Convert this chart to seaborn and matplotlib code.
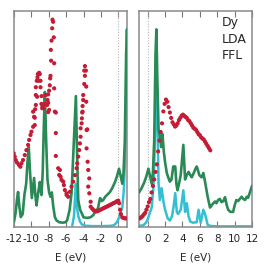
import matplotlib
matplotlib.use("Agg")
import matplotlib.pyplot as plt
import numpy as np
import pandas as pd
import seaborn as sns

# ---------------- data ----------------
green_E = [-12.0, -11.8, -11.65, -11.53, -11.4, -11.22, -11.0, -10.8, -10.6, -10.45, -10.3, -10.15,
           -9.95, -9.82, -9.69, -9.55, -9.41, -9.25, -9.03, -8.92, -8.84, -8.7, -8.58, -8.45, -8.3,
           -8.15, -7.96, -7.8, -7.65, -7.5, -7.3, -7.1, -6.8, -6.4, -6.1, -5.9, -5.77, -5.6, -5.38,
           -5.19, -5.05, -4.88, -4.75, -4.61, -4.4, -4.22, -4.0, -3.6, -3.2, -2.88, -2.6, -2.35,
           -2.1, -1.9, -1.73, -1.5, -1.25, -0.96, -0.7, -0.38, -0.15, 0.08, 0.25, 0.46, 0.6, 0.75,
           0.9, 1.0, 1.1, 1.25, 1.41, 1.55, 1.7, 1.85, 2.0, 2.2, 2.36, 2.55, 2.74, 2.94, 3.17, 3.3,
           3.43, 3.6, 3.8, 4.0, 4.1, 4.2, 4.3, 4.5, 4.7, 4.9, 5.07, 5.3, 5.5, 5.64, 5.8, 5.94, 6.2,
           6.4, 6.55, 6.7, 6.9, 7.17, 7.35, 7.55, 7.74, 7.9, 8.1, 8.3, 8.5, 8.7, 8.9, 9.1, 9.26,
           9.5, 9.83, 10.0, 10.2, 10.4, 10.6, 10.8, 11.0, 11.2, 11.4, 11.55, 11.75, 12.0]
green_v = [0.025, 0.07, 0.13, 0.162, 0.1, 0.046, 0.06, 0.15, 0.2, 0.3, 0.37, 0.25,
           0.134, 0.18, 0.227, 0.15, 0.1, 0.15, 0.208, 0.17, 0.148, 0.25, 0.45, 0.625, 0.4,
           0.22, 0.16, 0.14, 0.16, 0.1, 0.046, 0.03, 0.022, 0.02, 0.022, 0.03, 0.05, 0.08, 0.157,
           0.324, 0.45, 0.606, 0.35, 0.125, 0.08, 0.065, 0.045, 0.042, 0.045, 0.055, 0.075, 0.085,
           0.134, 0.12, 0.125, 0.14, 0.15, 0.162, 0.18, 0.208, 0.235, 0.27, 0.24, 0.2, 0.25, 0.4,
           0.8, 0.915, 0.7, 0.45, 0.42, 0.37, 0.43, 0.35, 0.3, 0.25, 0.23, 0.21, 0.22, 0.28, 0.28, 0.2,
           0.17, 0.2, 0.24, 0.33, 0.38, 0.3, 0.22, 0.24, 0.255, 0.24, 0.23, 0.25, 0.27, 0.28, 0.26, 0.24, 0.23,
           0.25, 0.22, 0.185, 0.14, 0.09, 0.1, 0.11, 0.118, 0.11, 0.125, 0.13, 0.115, 0.12, 0.138, 0.1, 0.08,
           0.07, 0.07, 0.1, 0.125, 0.12, 0.13, 0.14, 0.13, 0.125, 0.14, 0.135, 0.16, 0.19]

cyan_E = [-5.3, -5.1, -5.0, -4.88, -4.75, -4.6, -4.4, -4.2, -3.8, -3.0, -2.0, -1.0, -0.5, -0.2, 0.0,
          0.2, 0.46, 0.65, 0.8, 1.0, 1.12, 1.25, 1.4, 1.6, 1.8, 2.0, 2.3, 2.55, 2.8, 3.0, 3.17, 3.35,
          3.5, 3.8, 4.1, 4.3, 4.5, 4.7, 4.9, 5.2, 5.64, 5.85, 6.1, 6.4, 6.6, 6.9, 7.2, 8.0, 10.0, 12.0]
cyan_v = [0.005, 0.05, 0.12, 0.2, 0.09, 0.05, 0.025, 0.012, 0.006, 0.004, 0.004, 0.005, 0.008, 0.02, 0.035,
          0.06, 0.09, 0.18, 0.35, 0.72, 0.5, 0.2, 0.125, 0.18, 0.12, 0.08, 0.04, 0.03, 0.05, 0.1, 0.157, 0.07,
          0.06, 0.08, 0.17, 0.07, 0.11, 0.05, 0.025, 0.02, 0.022, 0.08, 0.02, 0.08, 0.06, 0.01, 0.005, 0.003, 0.003, 0.003]

xps_E = [-12.03, -11.91, -11.8, -11.65, -11.42, -11.26, -11.14, -10.96, -10.76, -10.57, -10.38, -10.26,
         -10.1, -9.99, -9.8, -9.61, -9.69, -9.8, -9.57, -9.61, -9.49, -9.49, -9.34, -9.49, -9.38, -9.3,
         -9.26, -9.15, -9.11, -9.03, -8.95, -8.95, -8.84, -8.84, -8.72, -8.76, -8.6, -8.45, -8.34, -8.18,
         -8.14, -8.07, -8.07, -8.07, -7.96, -7.96, -7.88, -7.84, -7.8, -7.76, -7.73, -7.68, -7.61, -7.57,
         -7.5, -7.42, -7.38, -7.38, -7.3, -7.19, -7.19, -7.19, -6.92, -6.8, -6.72, -6.64, -6.53, -6.34,
         -6.26, -6.15, -5.95, -5.95, -5.77, -5.57, -5.38, -5.19, -4.99, -4.8, -4.73, -4.61, -4.5, -4.42,
         -4.34, -4.34, -4.22, -4.19, -4.15, -4.11, -4.11, -4.04, -4.04, -3.92, -3.92, -3.84, -3.84, -3.73,
         -3.69, -3.69, -3.57, -3.65, -3.65, -3.53, -3.46, -3.34, -3.46, -3.34, -3.18, -3.18, -3.0, -2.85,
         -2.7, -2.55, -2.4, -2.25, -2.1, -1.95, -1.8, -1.65, -1.5, -1.35, -1.2, -1.05, -0.9, -0.75, -0.6,
         -0.45, -0.3, -0.15, 0.0, 0.1, 0.2, 0.3, 0.45, 0.6, 0.75, 0.9]
xps_v = [0.341, 0.326, 0.31, 0.298, 0.287, 0.279, 0.295, 0.31, 0.333, 0.356, 0.38, 0.403,
         0.426, 0.441, 0.464, 0.472, 0.51, 0.534, 0.545, 0.506, 0.565, 0.611, 0.603, 0.647, 0.677, 0.693,
         0.708, 0.677, 0.714, 0.708, 0.677, 0.647, 0.606, 0.57, 0.56, 0.55, 0.55, 0.57, 0.611, 0.565,
         0.588, 0.614, 0.575, 0.532, 0.542, 0.631, 0.656, 0.688, 0.7, 0.82, 0.77, 0.863, 0.92, 0.96,
         0.95, 0.878, 0.758, 0.642, 0.534, 0.53, 0.435, 0.329, 0.272, 0.241, 0.264, 0.233, 0.218, 0.21,
         0.194, 0.171, 0.156, 0.148, 0.14, 0.163, 0.187, 0.21, 0.24, 0.272, 0.295, 0.326, 0.356, 0.387,
         0.418, 0.457, 0.48, 0.503, 0.53, 0.534, 0.56, 0.588, 0.611, 0.662, 0.724, 0.745, 0.7, 0.724,
         0.65, 0.58, 0.452, 0.449, 0.364, 0.302, 0.264, 0.225, 0.187, 0.156, 0.117, 0.094, 0.085, 0.078,
         0.075, 0.072, 0.073, 0.076, 0.079, 0.082, 0.085, 0.088, 0.091, 0.094, 0.097, 0.1, 0.103, 0.106, 0.11,
         0.112, 0.115, 0.12, 0.122, 0.11, 0.08, 0.06, 0.045, 0.042, 0.04, 0.04]

bis_E = [-0.9, -0.75, -0.6, -0.45, -0.3, -0.15, 0.0, 0.15, 0.3, 0.45, 0.6, 0.75, 0.9, 1.05, 1.2, 1.35,
         1.5, 1.65, 1.8, 1.95, 2.1, 2.25, 2.4, 2.55, 2.7, 2.85, 3.0, 3.15, 3.3, 3.45, 3.6, 3.75, 3.9,
         4.05, 4.2, 4.35, 4.5, 4.65, 4.8, 4.95, 5.1, 5.25, 5.4, 5.55, 5.7, 5.85, 6.0, 6.15, 6.3, 6.45,
         6.6, 6.75, 6.9, 7.05, 7.2]
bis_v = [0.04, 0.045, 0.05, 0.058, 0.065, 0.08, 0.095, 0.115, 0.13, 0.16, 0.19, 0.22, 0.255, 0.29, 0.35, 0.4,
         0.44, 0.48, 0.535, 0.57, 0.59, 0.58, 0.555, 0.53, 0.505, 0.485, 0.475, 0.465, 0.47, 0.48, 0.495, 0.505, 0.515,
         0.52, 0.515, 0.51, 0.505, 0.495, 0.49, 0.48, 0.47, 0.46, 0.455, 0.45, 0.44, 0.43, 0.425, 0.415, 0.41, 0.405,
         0.395, 0.385, 0.375, 0.365, 0.355]

left_ticks = [-12, -10, -8, -6, -4, -2, 0]
left_labels = ["-12", "-10", "-8", "-6", "-4", "-2", "0"]
right_ticks = [0, 2, 4, 6, 8, 10, 12]
right_labels = ["0", "2", "4", "6", "8", "10", "12"]
annot = "Dy\nLDA\nFFL"

GREEN = "#2a8a55"
CYAN = "#33c0d2"
RED = "#c41c35"
SPINE = "#8a8a8a"

green_df = pd.DataFrame({"E": green_E, "v": green_v})
cyan_df = pd.DataFrame({"E": cyan_E, "v": cyan_v})
xps_df = pd.DataFrame({"E": xps_E, "v": xps_v})
bis_df = pd.DataFrame({"E": bis_E, "v": bis_v})

sns.set_style("ticks")
plt.rcParams["font.family"] = ["DejaVu Sans"]

fig = plt.figure(figsize=(2.66, 2.66), dpi=100)
W, H = 266.0, 266.0
ax1 = fig.add_axes([14 / W, 39 / H, 113 / W, 216 / H])
ax2 = fig.add_axes([139 / W, 39 / H, 113 / W, 216 / H])

for ax, xlim, ticks, labels, red in [
    (ax1, (-12, 1), left_ticks, left_labels, xps_df),
    (ax2, (-1, 12), right_ticks, right_labels, bis_df),
]:
    ax.axvline(0, color="#b5b5b5", ls=(0, (1, 1.5)), lw=0.8, zorder=1)
    sns.lineplot(data=cyan_df, x="E", y="v", ax=ax, color=CYAN, lw=1.8,
                 sort=False, estimator=None, zorder=2)
    sns.lineplot(data=green_df, x="E", y="v", ax=ax, color=GREEN, lw=1.9,
                 sort=False, estimator=None, zorder=3)
    sns.scatterplot(data=red, x="E", y="v", ax=ax, color=RED, s=9,
                    edgecolor="none", linewidth=0, zorder=4)
    ax.set_xlim(*xlim)
    ax.set_ylim(0, 1)
    ax.set_yticks([])
    ax.set_ylabel("")
    ax.set_xticks(ticks)
    ax.set_xticklabels(labels)
    ax.set_xlabel("E (eV)", fontsize=7.5, labelpad=6)
    ax.tick_params(axis="x", direction="in", top=True, bottom=True, length=4,
                   width=0.8, color="#777777", labelsize=7.5, pad=5)
    for sp in ax.spines.values():
        sp.set_color(SPINE)
        sp.set_linewidth(1.1)
        sp.set_visible(True)

ax2.text(0.73, 0.975, annot, transform=ax2.transAxes, ha="left", va="top",
         fontsize=9, linespacing=1.35)

fig.savefig("out.png", dpi=100)
